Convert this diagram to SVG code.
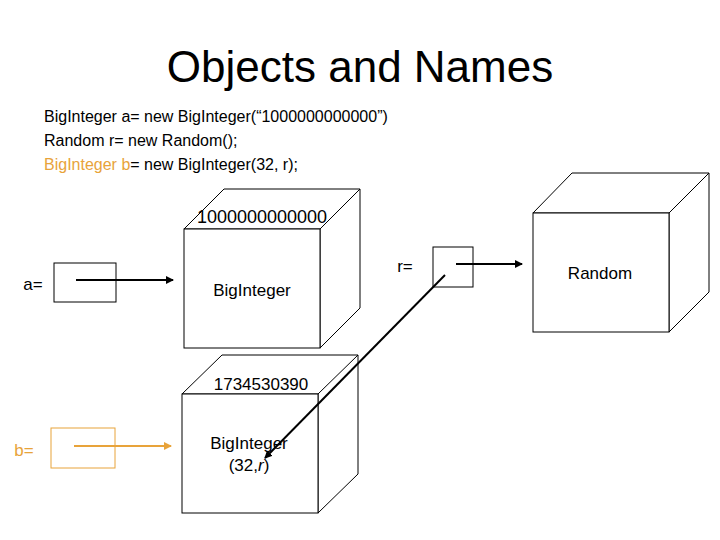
<svg xmlns="http://www.w3.org/2000/svg" width="720" height="540" viewBox="0 0 720 540">
<style>
text{font-family:"Liberation Sans",Arial,sans-serif;fill:#000}
.c{fill:#fff;stroke:#000;stroke-width:1}
.l{stroke:#000;stroke-width:2;fill:none}
.o{fill:#E8A33A}
</style>
<defs>
<marker id="ah" markerWidth="8" markerHeight="8" refX="7" refY="4" orient="auto" markerUnits="userSpaceOnUse"><path d="M0,0 L8,4 L0,8 z" fill="#000"/></marker>
<marker id="aho" markerWidth="8" markerHeight="8" refX="7" refY="4" orient="auto" markerUnits="userSpaceOnUse"><path d="M0,0 L8,4 L0,8 z" fill="#E8A33A"/></marker>
</defs>
<rect width="720" height="540" fill="#fff"/>
<text x="360" y="82" font-size="44" text-anchor="middle">Objects and Names</text>
<text x="44" y="122" font-size="16">BigInteger a= new BigInteger(“1000000000000”)</text>
<text x="44" y="146" font-size="16">Random r= new Random();</text>
<text x="44" y="170" font-size="16"><tspan class="o">BigInteger b</tspan>= new BigInteger(32, r);</text>
<g id="cubeA">
<path class="c" d="M184,229 L224,189 L360,189 L360,308 L320,348 L320,229 Z M320,229 L360,189"/>
<rect class="c" x="184" y="229" width="136" height="119"/>
<text x="262" y="223" font-size="18" text-anchor="middle">1000000000000</text>
<text x="252" y="296" font-size="17" text-anchor="middle">BigInteger</text>
</g>
<g id="cubeB">
<path class="c" d="M182,394 L222,355 L358,355 L358,474 L318,513 L318,394 Z M318,394 L358,355"/>
<rect class="c" x="182" y="394" width="136" height="119"/>
<text x="261" y="390" font-size="17" text-anchor="middle">1734530390</text>
<text x="249" y="449" font-size="17" text-anchor="middle">BigInteger</text>
<text x="249" y="471" font-size="17" text-anchor="middle">(32,<tspan font-style="italic">r</tspan>)</text>
</g>
<g id="cubeR">
<path class="c" d="M533,213 L572,173 L709,173 L709,292 L669,332 L669,213 Z M669,213 L709,173"/>
<rect class="c" x="533" y="213" width="136" height="119"/>
<text x="600" y="279" font-size="17" text-anchor="middle">Random</text>
</g>
<g id="varA">
<text x="33" y="290" font-size="17" text-anchor="middle">a=</text>
<rect class="c" x="54" y="263" width="62" height="39"/>
</g>
<g id="varB">
<text x="24" y="456" font-size="17" text-anchor="middle" class="o">b=</text>
<rect x="51" y="428" width="64" height="40" fill="none" stroke="#E8A33A"/>
</g>
<g id="varR">
<text x="405" y="272" font-size="17" text-anchor="middle">r=</text>
<rect class="c" x="433" y="247" width="40" height="40"/>
</g>
<g id="connectors">
<line class="l" x1="76" y1="280" x2="173" y2="280" marker-end="url(#ah)"/>
<line x1="74" y1="446" x2="171" y2="446" stroke="#E8A33A" stroke-width="2" marker-end="url(#aho)"/>
<line class="l" x1="456" y1="264" x2="522" y2="264" marker-end="url(#ah)"/>
<line class="l" x1="445" y1="275" x2="265" y2="458" stroke-width="2.5" marker-end="url(#ah)"/>
</g>
</svg>
